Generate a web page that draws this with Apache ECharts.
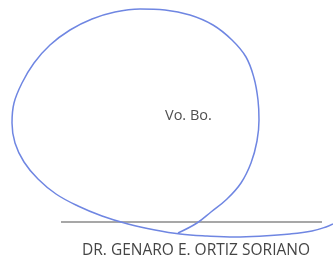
<!DOCTYPE html>
<html><head><meta charset="utf-8">
<script src="https://cdn.jsdelivr.net/npm/echarts@6/dist/echarts.min.js"></script>
<style>html,body{margin:0;padding:0;background:#fff}#c{width:333px;height:258px}</style>
</head><body><div id="c"></div>
<script>
// Signature stroke, traced point by point (x, y in pixel-like units, y downward)
const signaturePoints = [
  [178,233],[197,223],[211,212],[227,199],[241,183],[251,163],[257,141],[259,120],
  [258,100],[254,78],[246,57],[232,40],[213,25],[190,15],[165,10],[140,9],[115,12],
  [92,19],[70,30],[50,45],[34,63],[22,83],[14,103],[12,123],[15,143],[24,162],
  [38,179],[56,194],[78,206],[102,216],[128,224],[155,230],[180,234],[207,236],
  [235,237],[263,236],[290,234],[312,231],[326,227],[333,224]
];
const baseLine = [[61,222],[322,222]];
const stampText = 'Vo. Bo.';
const nameText = 'DR. GENARO E. ORTIZ SORIANO';

const chart = echarts.init(document.getElementById('c'), null, {renderer:'canvas'});
chart.setOption({
  animation:false,
  grid:{left:0,right:0,top:0,bottom:0},
  xAxis:{type:'value',min:0,max:333,show:false},
  yAxis:{type:'value',min:0,max:258,inverse:true,show:false},
  series:[
    {type:'line',data:baseLine,symbol:'none',lineStyle:{color:'#8a8a8a',width:1.6},z:1},
    {type:'line',data:signaturePoints,symbol:'none',smooth:0.4,lineStyle:{color:'#6f86e2',width:1.5},z:2}
  ],
  graphic:[
    {type:'text',x:165,y:116,style:{text:stampText,font:'14.5px "Open Sans"',fill:'#505050',verticalAlign:'middle'}},
    {type:'text',x:82,y:251,style:{text:nameText,font:'15.5px "Open Sans"',fill:'#454545',verticalAlign:'middle'}}
  ]
});
</script></body></html>
